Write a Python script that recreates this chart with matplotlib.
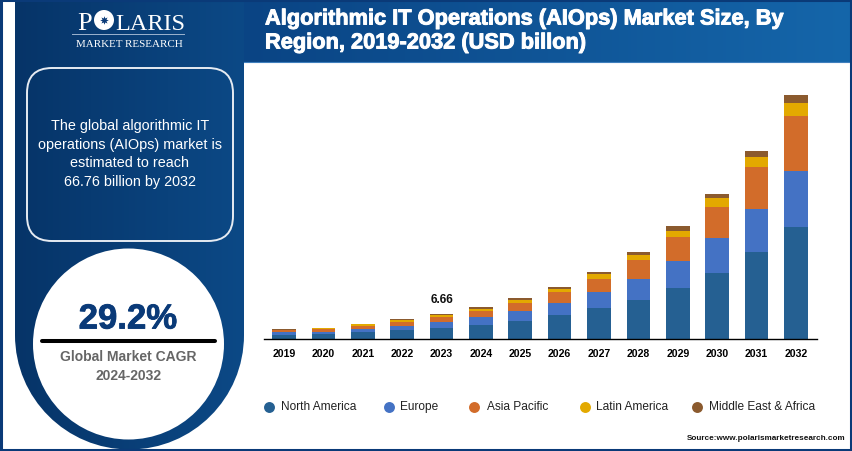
import numpy as np
import matplotlib
matplotlib.use("Agg")
import matplotlib.pyplot as plt
import matplotlib.patheffects as pe
from matplotlib.colors import LinearSegmentedColormap
from matplotlib.patches import Circle, FancyBboxPatch, PathPatch, Rectangle
from matplotlib.path import Path

plt.rcParams["font.family"] = ["Liberation Sans", "DejaVu Sans"]

# -------------------------
# Data (USD billion)
# -------------------------
years = ["2019", "2020", "2021", "2022", "2023", "2024", "2025",
         "2026", "2027", "2028", "2029", "2030", "2031", "2032"]
north_america = [0.91, 1.18, 1.65, 2.20, 2.87, 3.65, 4.86, 6.32, 8.32, 10.71, 13.82, 18.13, 23.63, 30.58]
europe = [0.74, 0.74, 0.91, 1.18, 1.66, 2.20, 2.64, 3.57, 4.40, 5.77, 7.53, 9.42, 12.00, 15.49]
asia_pacific = [0.55, 0.63, 0.82, 1.10, 1.38, 1.65, 2.31, 3.02, 3.76, 5.03, 6.48, 8.71, 11.43, 15.00]
latin_america = [0.27, 0.27, 0.47, 0.47, 0.48, 0.55, 0.63, 0.82, 1.18, 1.48, 1.84, 2.39, 2.94, 3.68]
middle_east = [0.19, 0.19, 0.27, 0.27, 0.27, 0.47, 0.55, 0.55, 0.74, 0.82, 1.10, 1.18, 1.57, 2.01]

series_names = ["North America", "Europe", "Asia Pacific", "Latin America", "Middle East & Africa"]
series_values = [north_america, europe, asia_pacific, latin_america, middle_east]
series_colors = ["#256092", "#4472c4", "#d26c2a", "#e3a900", "#8b5a2e"]

W, H = 852, 452
NAVY = "#0a3a78"

fig = plt.figure(figsize=(W / 100, H / 100), dpi=100, facecolor="white")

# -------------------------
# Page decoration, in pixel coordinates
# -------------------------
bg = fig.add_axes([0, 0, 1, 1])
bg.set_xlim(0, W)
bg.set_ylim(H, 0)
bg.axis("off")


def gradient(ax, x0, x1, y0, y1, c0, c1, clip=None):
    cmap = LinearSegmentedColormap.from_list("g", [c0, c1])
    im = ax.imshow(np.linspace(0, 1, 256).reshape(1, -1), cmap=cmap, aspect="auto",
                   extent=[x0, x1, y1, y0], zorder=1)
    if clip is not None:
        im.set_clip_path(clip)
    return im


# outer frame
bg.add_patch(Rectangle((0.5, 0.5), W - 1.5, H - 1.5, fc="none", ec=NAVY, lw=2.2, zorder=6))

# header band
gradient(bg, 244, W, 0, 63, "#0a4484", "#1566aa")
bg.plot([244, W], [62.5, 62.5], color="#3f7fbd", lw=0.8, zorder=2)

# left panel with rounded bottom
cx, cy, r = 129.5, 336, 114.5
k = 0.5523 * r
verts = [(cx - r, 0), (cx + r, 0), (cx + r, cy),
         (cx + r, cy + k), (cx + k, cy + r), (cx, cy + r),
         (cx - k, cy + r), (cx - r, cy + k), (cx - r, cy), (cx - r, 0)]
codes = [Path.MOVETO, Path.LINETO, Path.LINETO,
         Path.CURVE4, Path.CURVE4, Path.CURVE4,
         Path.CURVE4, Path.CURVE4, Path.CURVE4, Path.CLOSEPOLY]
panel = PathPatch(Path(verts, codes), fc="none", ec="none", transform=bg.transData)
bg.add_patch(panel)
gradient(bg, 15, 244, 0, H, "#063468", "#0c4986", clip=panel)

# rounded text box
bg.add_patch(FancyBboxPatch((27 + 25, 69 + 25), 206 - 50, 173 - 50,
                            boxstyle="round,pad=25,rounding_size=25",
                            fc="none", ec="#e6ebf2", lw=1.4, zorder=3))
bg.text(130, 154, "The global algorithmic IT\noperations (AIOps) market is\nestimated to reach\n66.76 billion by 2032",
        color="white", fontsize=10.4, ha="center", va="center", linespacing=1.45, zorder=4)

# white circle
bg.add_patch(Circle((128.5, 345), 95.5, fc="white", ec="none", zorder=3))
bg.text(128, 320, "29.2%", color="#0a3a78", fontsize=25, fontweight="bold", ha="center", va="center",
        path_effects=[pe.withStroke(linewidth=0.6, foreground="#0a3a78")], zorder=4)
bg.plot([42, 215], [341.5, 341.5], color="black", lw=2.9, solid_capstyle="round", zorder=4)
bg.text(128.5, 357.5, "Global Market CAGR", color="#666666", fontsize=10, fontweight="bold",
        ha="center", va="center", zorder=4)
bg.text(128.5, 376, "2024-2032", color="#666666", fontsize=10, fontweight="bold",
        ha="center", va="center", zorder=4)

# logo
bg.text(77, 29.5, "P", color="white", family="Liberation Serif", fontsize=19, ha="left", va="baseline", zorder=4)
bg.add_patch(Circle((104, 21), 10, fc="white", ec="none", zorder=4))
bg.scatter([104], [21], marker=(8, 1, 0), s=38, color=NAVY, linewidths=0, zorder=5)
bg.text(115, 29.5, "LARIS", color="white", family="Liberation Serif", fontsize=17.5, ha="left", va="baseline", zorder=4)
bg.plot([72, 184], [35, 35], color="#9db4cf", lw=0.7, zorder=4)
bg.text(129, 44.5, "MARKET RESEARCH", color="white", family="Liberation Serif", fontsize=7.9,
        ha="center", va="center", zorder=4)

# title
title_fx = [pe.withStroke(linewidth=0.7, foreground="white")]
bg.text(265, 20, "Algorithmic IT Operations (AIOps) Market Size, By", color="white", fontsize=15.7,
        fontweight="bold", ha="left", va="center", path_effects=title_fx, zorder=4)
bg.text(265, 44, "Region, 2019-2032 (USD billon)", color="white", fontsize=15.7,
        fontweight="bold", ha="left", va="center", path_effects=title_fx, zorder=4)

# -------------------------
# Stacked bars
# -------------------------
ax = fig.add_axes([264 / W, 1 - 339.5 / H, (816.7 - 264) / W, 250 / H])
ax.patch.set_alpha(0)
x = np.arange(len(years))
bottom = np.zeros(len(years))
for name, vals, col in zip(series_names, series_values, series_colors):
    ax.bar(x, vals, width=0.6, bottom=bottom, color=col, label=name)
    bottom += np.array(vals)

ax.set_xlim(-0.508, 13.528)
ax.set_ylim(0, 250 / 3.64)
ax.set_xticks(x)
ax.set_xticklabels(years, fontsize=7.6, fontweight="bold")
ax.tick_params(axis="x", length=0, pad=6.5)
ax.set_yticks([])
for side in ["top", "left", "right"]:
    ax.spines[side].set_visible(False)
ax.spines["bottom"].set_linewidth(1.0)

ax.text(4, bottom[4] + 2.6, "6.66", fontsize=8.6, fontweight="bold", ha="center", va="bottom", color="#111111")

# -------------------------
# Legend and source
# -------------------------
marker_x = [269, 389, 474, 585, 697]
label_x = [281, 400, 487, 596, 709]
for name, col, mx, lx in zip(series_names, series_colors, marker_x, label_x):
    bg.scatter([mx], [408], s=62, color=col, linewidths=0, zorder=4)
    bg.text(lx, 407.5, name, fontsize=8.6, color="#222222", ha="left", va="center", zorder=4)

bg.text(845, 438.5, "Source:www.polarismarketresearch.com", fontsize=5.9, fontweight="bold",
        color="#111111", ha="right", va="center", zorder=4)

fig.savefig("out.png", dpi=100)
